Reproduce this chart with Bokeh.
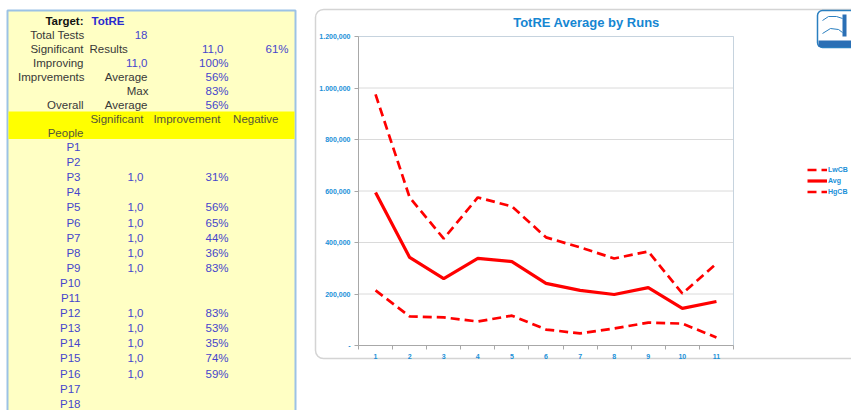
from bokeh.plotting import figure
from bokeh.models import Range1d, FixedTicker, Legend, LegendItem
from bokeh.embed import file_html
from bokeh.resources import INLINE
from bokeh.core.properties import value

# ---------------- data ----------------
runs = [1, 2, 3, 4, 5, 6, 7, 8, 9, 10, 11]
avg = [594000, 342000, 260000, 338000, 326000, 241000, 214000, 198000, 225000, 144000, 171000]
lwcb = [214000, 113000, 109000, 93000, 116000, 62000, 47000, 66000, 89000, 85000, 31000]
hgcb = [975000, 575000, 415000, 575000, 540000, 420000, 381000, 338000, 365000, 202000, 318000]
y_ticks = [0, 200000, 400000, 600000, 800000, 1000000, 1200000]
y_tick_labels = ["-", "200,000", "400,000", "600,000", "800,000", "1.000,000", "1.200,000"]
chart_title = "TotRE Average by Runs"

target = "TotRE"
total_tests = "18"
significant_results = ["11,0", "61%"]
improving = ["11,0", "100%"]
impr_average = "56%"
impr_max = "83%"
overall_average = "56%"
header_cols = ["Significant", "Improvement", "Negative"]
people = ["P%d" % i for i in range(1, 19)]
person_sig = [None, None, "1,0", None, "1,0", "1,0", "1,0", "1,0", "1,0", None, None,
              "1,0", "1,0", "1,0", "1,0", "1,0", None, None]
person_impr = [None, None, "31%", None, "56%", "65%", "44%", "36%", "83%", None, None,
               "83%", "53%", "35%", "74%", "59%", None, None]

FONT = "Liberation Sans"
LABEL_C = "#383838"
VAL_C = "#4646cc"
HEAD_C = "#55553a"
AXIS_BLUE = "#1a90d8"

# ---------------- layout (canvas pixels) ----------------
W, H = 851, 410
PL, PR, PT, PB = 358, 733, 36, 345          # plot area of the chart
X0, X1 = 0.5, 11.5
Y0, Y1 = 0, 1200000
ux = (X1 - X0) / (PR - PL)
uy = (Y1 - Y0) / (PB - PT)

p = figure(width=W, height=H, title=None,
           x_range=Range1d(X0 - PL * ux, X1 + (W - PR) * ux),
           y_range=Range1d(Y0 - (H - PB) * uy, Y1 + PT * uy),
           output_backend="svg", toolbar_location=None, min_border=0)
p.extra_x_ranges = {"px": Range1d(0, W)}
p.extra_y_ranges = {"px": Range1d(H, 0)}
p.background_fill_color = "white"
p.border_fill_color = "white"
p.outline_line_color = None
p.grid.visible = False

PX = dict(x_range_name="px", y_range_name="px")

# ---------------- table ----------------
p.quad(left=[7], right=[295], top=[10], bottom=[416], fill_color="#ffffc4",
       line_color="#9cc2e5", line_width=2, **PX)
p.quad(left=[8], right=[294], top=[111], bottom=[138.5], fill_color="#ffff00",
       line_color=None, **PX)

groups = {}
def put(x, y, s, align, color, bold=False):
    key = (align, color, bold)
    g = groups.setdefault(key, ([], [], []))
    g[0].append(x); g[1].append(y); g[2].append(s)

def ry(i):
    return 20 + 14 * i

put(83, ry(0), "Target:", "right", "#111111", True)
put(91, ry(0), target, "left", "#2a2ad0", True)
put(84, ry(1), "Total Tests", "right", LABEL_C)
put(147, ry(1), total_tests, "right", VAL_C)
put(83, ry(2), "Significant", "right", LABEL_C)
put(89, ry(2), "Results", "left", LABEL_C)
put(223, ry(2), significant_results[0], "right", VAL_C)
put(288, ry(2), significant_results[1], "right", VAL_C)
put(83, ry(3), "Improving", "right", LABEL_C)
put(147, ry(3), improving[0], "right", VAL_C)
put(228, ry(3), improving[1], "right", VAL_C)
put(84, ry(4), "Imprvements", "right", LABEL_C)
put(147, ry(4), "Average", "right", LABEL_C)
put(228, ry(4), impr_average, "right", VAL_C)
put(148, ry(5), "Max", "right", LABEL_C)
put(228, ry(5), impr_max, "right", VAL_C)
put(83, ry(6), "Overall", "right", LABEL_C)
put(147, ry(6), "Average", "right", LABEL_C)
put(228, ry(6), overall_average, "right", VAL_C)
put(143, ry(7), header_cols[0], "right", HEAD_C)
put(220, ry(7), header_cols[1], "right", HEAD_C)
put(278, ry(7), header_cols[2], "right", HEAD_C)
put(83, ry(8), "People", "right", HEAD_C)
for j, name in enumerate(people):
    y = 146.5 + 15.1 * j
    put(80, y, name, "right", VAL_C)
    if person_sig[j]:
        put(143, y, person_sig[j], "right", VAL_C)
    if person_impr[j]:
        put(228, y, person_impr[j], "right", VAL_C)

for (align, color, bold), (xs, ys, ss) in groups.items():
    p.text(x=xs, y=ys, text=ss, text_align=align, text_baseline="middle",
           text_font=value(FONT), text_font_size="11.5px", text_color=color,
           text_font_style="bold" if bold else "normal", **PX)

# ---------------- chart frame, title, logo ----------------
p.quad(left=[315], right=[W + 10], top=[9], bottom=[358], fill_color=None,
       line_color="#d4d4d4", line_width=1.5, border_radius=8, **PX)
p.text(x=[586], y=[22], text=[chart_title], text_align="center", text_baseline="middle",
       text_font=value(FONT), text_font_size="13px", text_font_style="bold",
       text_color="#1586d2", **PX)
p.quad(left=[817], right=[W + 6], top=[10], bottom=[47], fill_color="white",
       line_color="#2a7fc0", line_width=1.5, border_radius=5, **PX)
p.quad(left=[818], right=[W + 6], top=[40], bottom=[46.5], fill_color="#2a6fb5",
       line_color=None, **PX)
p.quad(left=[842], right=[846], top=[14], bottom=[36], fill_color="#2a6fb5",
       line_color=None, **PX)
p.line(x=[822, 828, 836, 842], y=[20, 16, 16, 18], line_color="#2a7fc0", line_width=1, **PX)
p.line(x=[822, 830, 838, 842], y=[33, 28, 29, 32], line_color="#2a7fc0", line_width=1, **PX)

# ---------------- chart ----------------
p.segment(x0=[X0] * len(y_ticks), x1=[X1] * len(y_ticks), y0=y_ticks, y1=y_ticks,
          line_color="#dadada", line_width=1)
p.quad(left=[X0], right=[X1], bottom=[Y0], top=[Y1], fill_color=None,
       line_color="#c6d3de", line_width=1)

yax = p.yaxis[0]
xax = p.xaxis[0]
yax.fixed_location = X0
xax.fixed_location = Y0
yax.bounds = (Y0, Y1)
xax.bounds = (X0, X1)
yax.ticker = FixedTicker(ticks=y_ticks)
yax.major_label_overrides = {k: v for k, v in zip(y_ticks, y_tick_labels)}
xax.ticker = FixedTicker(ticks=runs, minor_ticks=[r + 0.5 for r in [0] + runs])
for ax in (xax, yax):
    ax.axis_line_color = "#a8a8a8"
    ax.major_label_text_font = FONT
    ax.major_label_text_font_size = "7px"
    ax.major_label_text_font_style = "bold"
    ax.major_label_text_color = AXIS_BLUE
yax.major_tick_line_color = "#a8a8a8"
yax.major_tick_out = 4
yax.major_tick_in = 0
yax.minor_tick_line_color = None
yax.major_label_standoff = 4
xax.major_tick_line_color = None
xax.major_tick_out = 0
xax.major_tick_in = 0
xax.minor_tick_line_color = "#a8a8a8"
xax.minor_tick_out = 4
xax.minor_tick_in = 0
xax.major_label_standoff = 4

r_lw = p.line(runs, lwcb, line_color="#ff0000", line_width=2.7, line_dash="9 5")
r_avg = p.line(runs, avg, line_color="#ff0000", line_width=3.2)
r_hg = p.line(runs, hgcb, line_color="#ff0000", line_width=2.7, line_dash="9 5")

legend = Legend(items=[LegendItem(label="LwCB", renderers=[r_lw]),
                       LegendItem(label="Avg", renderers=[r_avg]),
                       LegendItem(label="HgCB", renderers=[r_hg])],
                location=(807, H - 197), glyph_width=20, glyph_height=11, label_height=11,
                spacing=0, padding=0, margin=0, label_standoff=1,
                label_text_font=FONT, label_text_font_size="7px", label_text_font_style="bold",
                label_text_color=AXIS_BLUE, border_line_color=None, background_fill_alpha=0)
p.add_layout(legend)

open("out.html", "w").write(file_html(p, INLINE))
